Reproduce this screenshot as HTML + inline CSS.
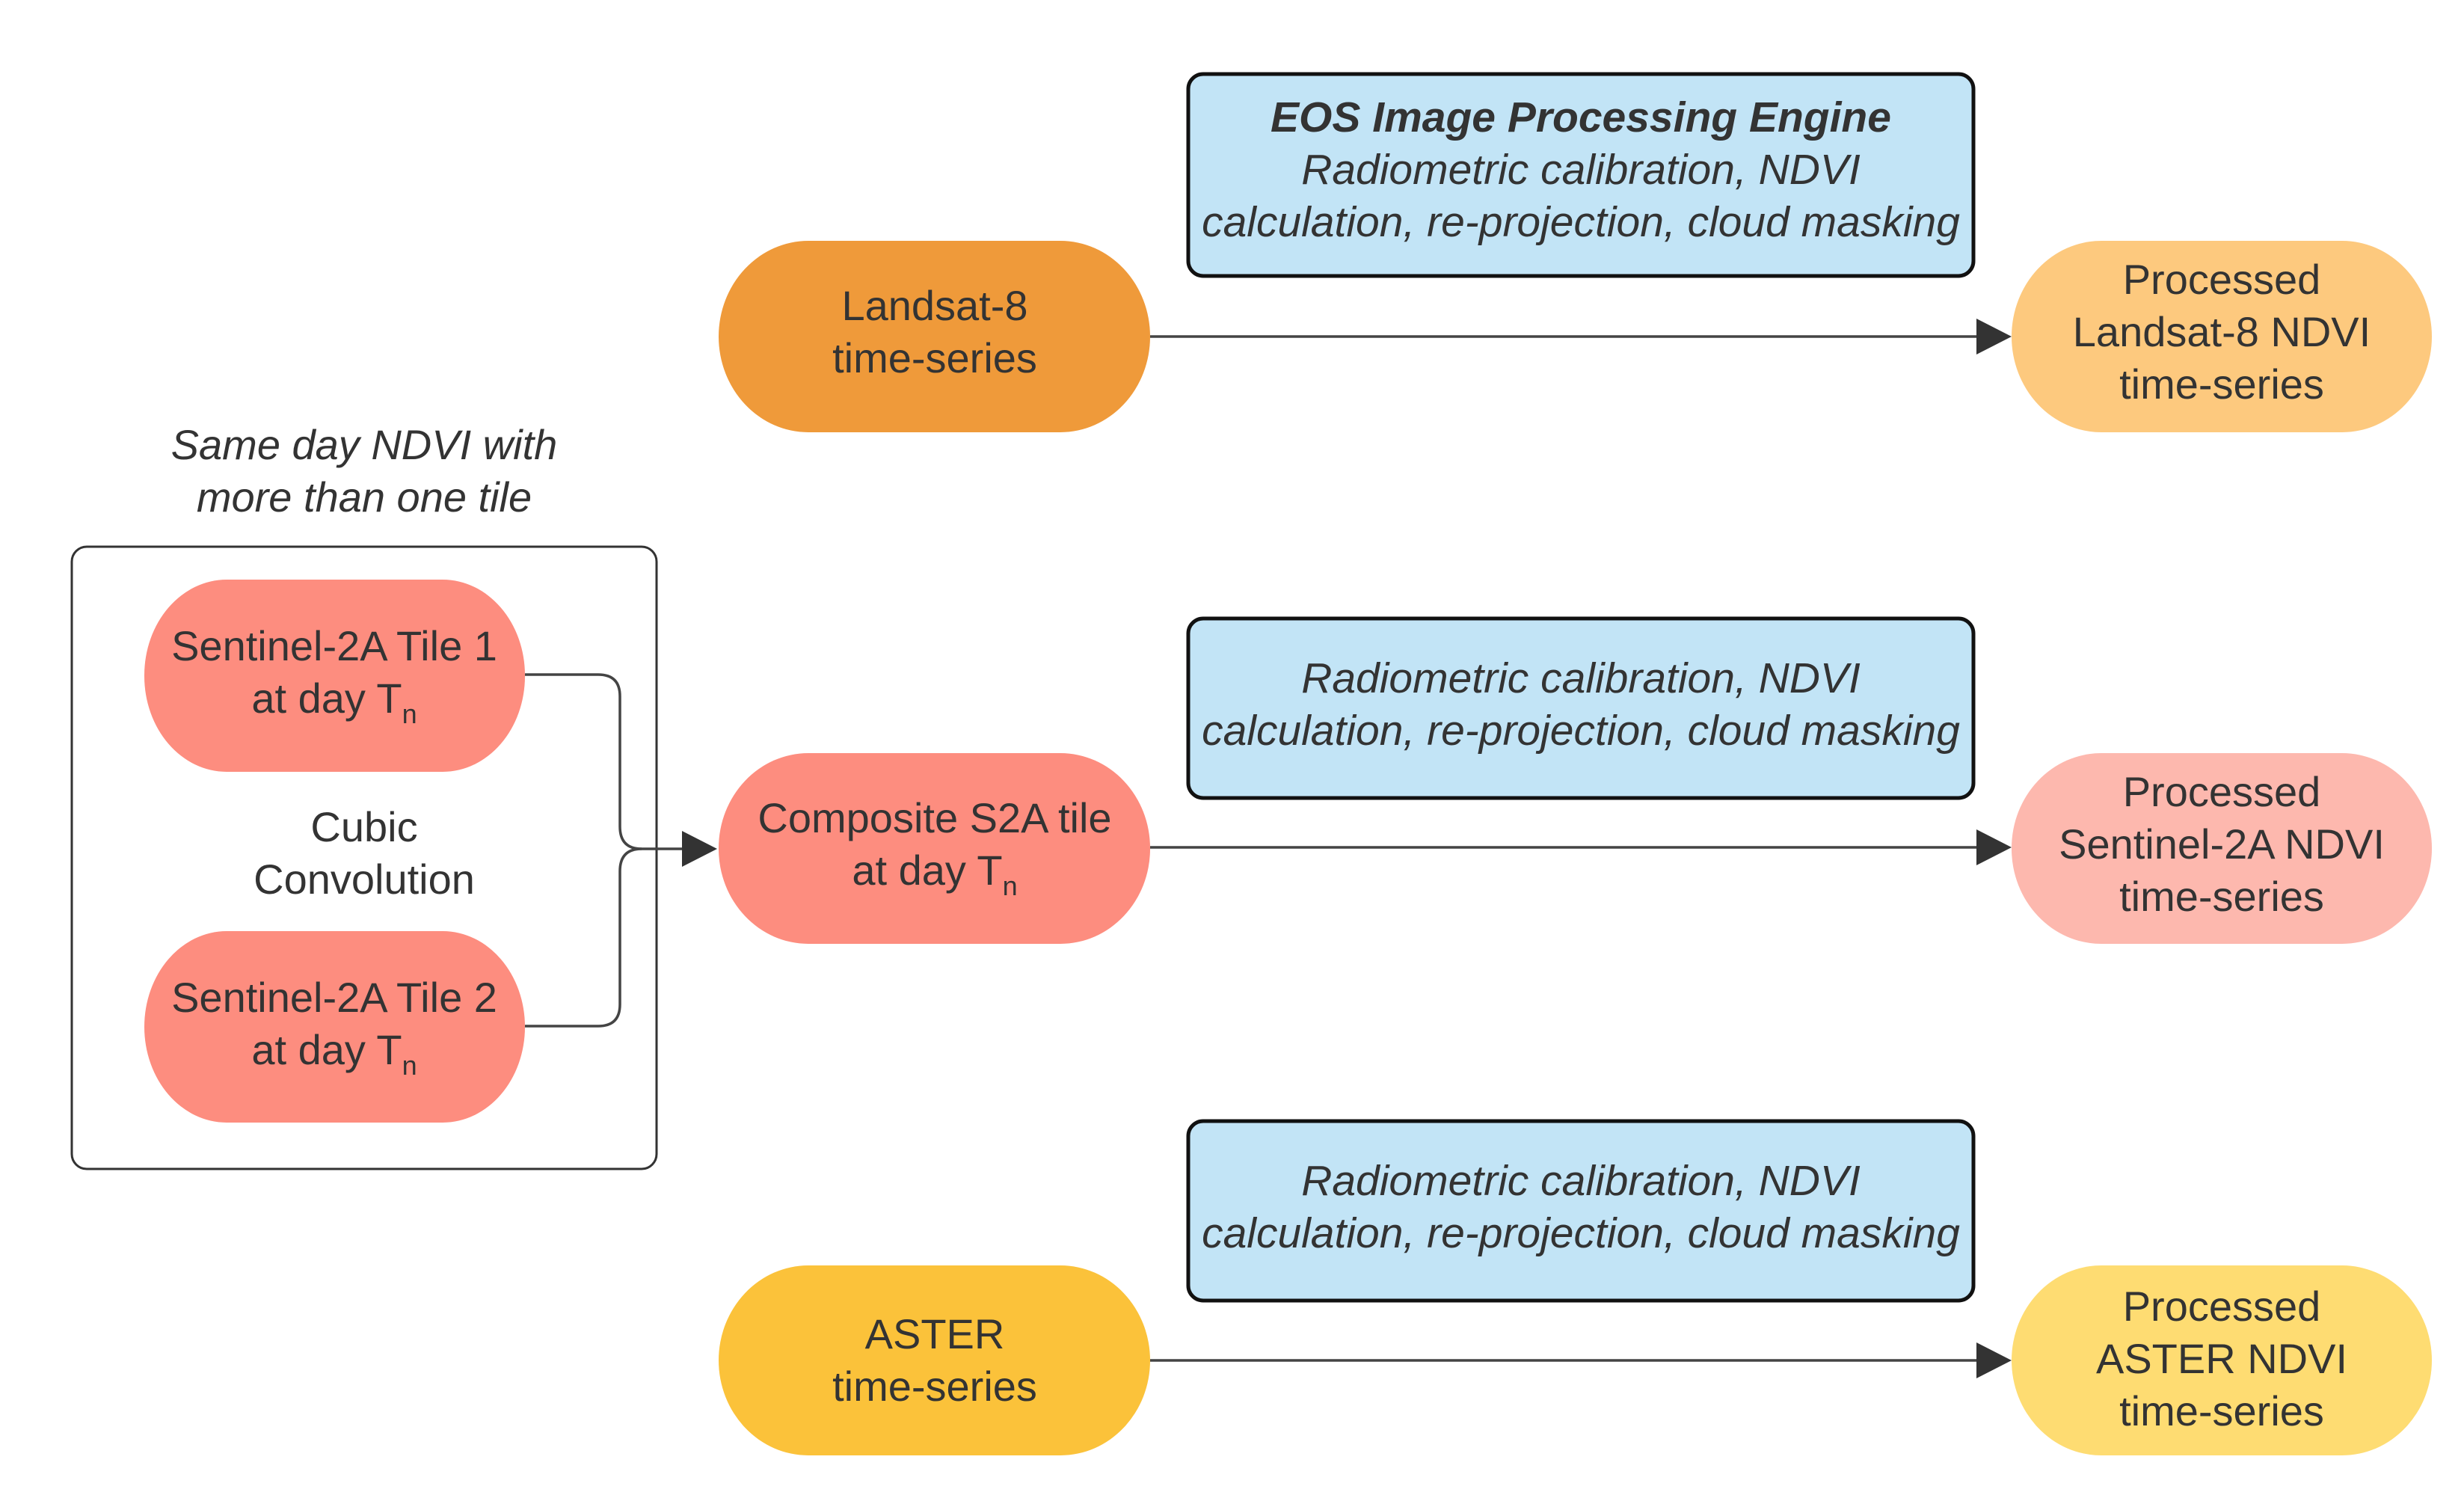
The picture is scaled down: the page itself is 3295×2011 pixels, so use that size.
<!DOCTYPE html>
<html><head><meta charset="utf-8"><style>
html,body{margin:0;padding:0;background:#fff;}
svg{display:block;}
text{font-family:"Liberation Sans",Arial,sans-serif;fill:#333;font-size:56px;text-anchor:middle;}
.it{font-style:italic;font-size:57px;}
</style></head><body>
<svg width="3295" height="2011" viewBox="0 0 3295 2011">
<!-- blue boxes -->
<rect x="1589" y="99" width="1050" height="270" rx="20" fill="#C2E4F6" stroke="#111" stroke-width="5"/>
<rect x="1589" y="827" width="1050" height="240" rx="20" fill="#C2E4F6" stroke="#111" stroke-width="5"/>
<rect x="1589" y="1499" width="1050" height="240" rx="20" fill="#C2E4F6" stroke="#111" stroke-width="5"/>
<text x="2114" y="176" class="it" font-weight="bold">EOS Image Processing Engine</text>
<text x="2114" y="246" class="it">Radiometric calibration, NDVI</text>
<text x="2114" y="316" class="it">calculation, re-projection, cloud masking</text>
<text x="2114" y="926" class="it">Radiometric calibration, NDVI</text>
<text x="2114" y="996" class="it">calculation, re-projection, cloud masking</text>
<text x="2114" y="1598" class="it">Radiometric calibration, NDVI</text>
<text x="2114" y="1668" class="it">calculation, re-projection, cloud masking</text>

<!-- outer group box -->
<rect x="96" y="731" width="782" height="832" rx="20" fill="none" stroke="#333" stroke-width="3"/>
<text x="487" y="614" class="it" style="font-size:56px">Same day NDVI with</text>
<text x="487" y="684" class="it" style="font-size:56px">more than one tile</text>

<!-- nodes -->
<rect x="961" y="322" width="577" height="256" rx="120" ry="128" fill="#EF9A3A"/>
<rect x="2690" y="322" width="562" height="256" rx="120" ry="128" fill="#FDC97E"/>
<rect x="961" y="1007" width="577" height="255" rx="120" ry="127" fill="#FD8D7F"/>
<rect x="2690" y="1007" width="562" height="255" rx="120" ry="127" fill="#FDB8AE"/>
<rect x="961" y="1692" width="577" height="254" rx="120" ry="127" fill="#FBC23A"/>
<rect x="2690" y="1692" width="562" height="254" rx="120" ry="127" fill="#FEDC72"/>
<rect x="193" y="775" width="509" height="257" rx="110" ry="128" fill="#FD8D7F"/>
<rect x="193" y="1245" width="509" height="256" rx="110" ry="128" fill="#FD8D7F"/>

<text x="1250" y="428">Landsat-8</text>
<text x="1250" y="498">time-series</text>
<text x="2971" y="393">Processed</text>
<text x="2971" y="463">Landsat-8 NDVI</text>
<text x="2971" y="533">time-series</text>

<text x="1250" y="1113">Composite S2A tile</text>
<text x="1250" y="1183">at day T<tspan font-size="36" dy="14">n</tspan></text>
<text x="2971" y="1078">Processed</text>
<text x="2971" y="1148">Sentinel-2A NDVI</text>
<text x="2971" y="1218">time-series</text>

<text x="1250" y="1803">ASTER</text>
<text x="1250" y="1873">time-series</text>
<text x="2971" y="1766">Processed</text>
<text x="2971" y="1836">ASTER NDVI</text>
<text x="2971" y="1906">time-series</text>

<text x="447" y="883">Sentinel-2A Tile 1</text>
<text x="447" y="953">at day T<tspan font-size="36" dy="14">n</tspan></text>
<text x="447" y="1353">Sentinel-2A Tile 2</text>
<text x="447" y="1423">at day T<tspan font-size="36" dy="14">n</tspan></text>
<text x="487" y="1125">Cubic</text>
<text x="487" y="1195">Convolution</text>

<!-- connectors -->
<g fill="none" stroke="#444" stroke-width="3.5">
<line x1="1538" y1="450" x2="2650" y2="450"/>
<line x1="1538" y1="1133" x2="2650" y2="1133"/>
<line x1="1538" y1="1819" x2="2650" y2="1819"/>
<path d="M702 902 H800 Q829 902 829 931 V1105 Q829 1135 858 1135 H915"/>
<path d="M702 1372 H800 Q829 1372 829 1343 V1165 Q829 1135 858 1135"/>
</g>
<g fill="#333">
<polygon points="2690,450 2643,426 2643,474"/>
<polygon points="2690,1133 2643,1109 2643,1157"/>
<polygon points="2690,1819 2643,1795 2643,1843"/>
<polygon points="959,1135 912,1111 912,1159"/>
</g>
</svg>
</body></html>
